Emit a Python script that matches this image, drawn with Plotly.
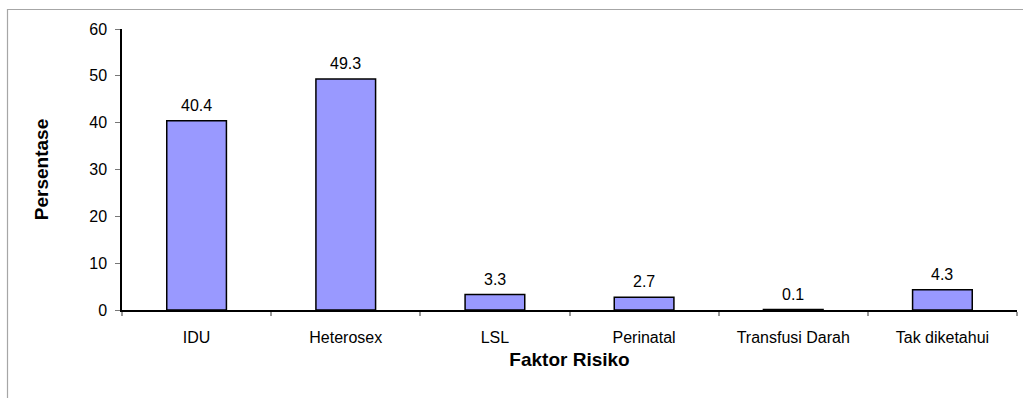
import plotly.graph_objects as go

categories = ["IDU", "Heterosex", "LSL", "Perinatal", "Transfusi Darah", "Tak diketahui"]
persentase = [40.4, 49.3, 3.3, 2.7, 0.1, 4.3]
y_ticks = [0, 10, 20, 30, 40, 50, 60]

W, H = 1023, 398
ML, MR, MT, MB = 122, 6, 29, 88
PW, PH = W - ML - MR, H - MT - MB

FONT = "Liberation Sans, Arial, sans-serif"

fig = go.Figure(
    go.Bar(
        x=categories,
        y=persentase,
        width=0.4,
        marker=dict(color="#9999FF", line=dict(color="#000000", width=1.5)),
        hoverinfo="x+y",
    )
)

# value labels above each bar
for cat, val in zip(categories, persentase):
    fig.add_annotation(
        x=cat, y=val, text=f"{val:.1f}", showarrow=False,
        yanchor="bottom", yshift=5,
        font=dict(family=FONT, size=16, color="#000000"),
    )

# light frame around the chart area
fig.add_shape(
    type="rect", xref="paper", yref="paper",
    x0=(7.5 - ML) / PW, x1=(W + 20 - ML) / PW,
    y0=-(MB + 20) / PH, y1=(H - MB - 9.5) / PH,
    line=dict(color="#A6A6A6", width=1.2), fillcolor="rgba(0,0,0,0)",
    layer="below",
)

fig.update_layout(
    width=W, height=H,
    margin=dict(l=ML, r=MR, t=MT, b=MB, pad=0),
    paper_bgcolor="white", plot_bgcolor="white",
    showlegend=False,
    font=dict(family=FONT, size=16, color="#000000"),
    xaxis=dict(
        type="category",
        showline=True, linecolor="#000000", linewidth=1.5,
        showgrid=False, zeroline=False,
        ticks="outside", tickson="boundaries", ticklen=4,
        tickcolor="#999999", tickwidth=1.5,
        tickfont=dict(family=FONT, size=16),
        ticklabelstandoff=12,
        title=dict(text="<b>Faktor Risiko</b>", font=dict(family=FONT, size=19), standoff=8),
    ),
    yaxis=dict(
        range=[0, 60], tickvals=y_ticks,
        showline=True, linecolor="#000000", linewidth=1.5,
        showgrid=False, zeroline=False,
        ticks="outside", ticklen=5, tickcolor="#777777", tickwidth=1.2,
        tickfont=dict(family=FONT, size=16),
        ticklabelstandoff=5,
        title=dict(text="<b>Persentase</b>", font=dict(family=FONT, size=19), standoff=36),
    ),
)

fig.write_html("out.html")
